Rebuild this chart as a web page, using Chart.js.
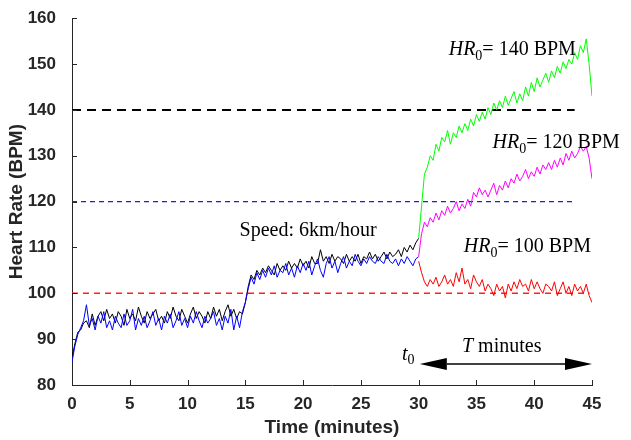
<!DOCTYPE html>
<html>
<head>
<meta charset="utf-8">
<script src="https://cdn.jsdelivr.net/npm/chart.js@4/dist/chart.umd.min.js"></script>
<style>
  html, body { margin: 0; padding: 0; background: #fff; }
</style>
</head>
<body>
<canvas id="myChart" width="631" height="440"></canvas>
<script>
// sampling: one value every quarter minute
const step = 0.25;
const xTicks = [0, 5, 10, 15, 20, 25, 30, 35, 40, 45];
const yTicks = [80, 90, 100, 110, 120, 130, 140, 150, 160];

// 0 - 30 min (black and blue runs)
const blackHR = [86,
  89, 91.5, 92, 93.5,   94, 92.5, 95.5, 93,   95, 96, 94, 96.5,   94.5, 95.5, 93.5, 96,
  95, 93, 96.5, 94.5,   95.5, 94, 97, 95,   93.5, 96, 94.5, 95.5,   96.5, 94, 95, 93.5,
  96, 94.5, 97, 95,   94, 96.5, 95, 93.5,   95.5, 97, 94.5, 96,   95, 93.5, 96, 94.5,
  97, 95, 96.5, 94,   96, 97.5, 95, 96.5,   94.5, 96, 95.5, 98,   101.5, 104, 103, 105,
  104, 105.5, 104.5, 106,   105, 104, 106.5, 105,   106, 105, 107, 105.5,   106.5, 105.5, 107.5, 106,
  107, 105.5, 108, 106.5,   106.5, 109.5, 107, 108,   106.5, 108.5, 107, 108,   107.5, 106.5, 108.5, 107,
  108, 107, 108.5, 106.5,   108, 107.5, 109, 107.5,   108.5, 107, 108, 109,   107.5, 109, 108, 108.5,
  109.5, 108, 110, 109,   110.5, 109.5, 111, 112];
const blueHR = [85,
  88.5, 91, 92.5, 94,   97.5, 93, 94.5, 92,   95, 93.5, 96, 92.5,   94, 92, 95, 93.5,
  92.5, 95.5, 93, 94,   96.5, 92, 94.5, 93,   95, 92.5, 94, 96,   93, 94.5, 92, 95,
  93.5, 95.5, 92.5, 94,   96, 93, 94.5, 92.5,   95, 93.5, 96, 94,   92.5, 95, 93.5, 94.5,
  96, 93, 94.5, 92,   95, 93.5, 96.5, 92,   95, 92.5, 96, 98,   101, 103.5, 102, 104.5,
  103, 105, 103.5, 105.5,   104, 106, 103.5, 105,   104.5, 106.5, 104, 105.5,   103.5, 106, 104.5, 106.5,
  105, 107, 104, 106,   107.5, 105, 103.5, 106.5,   108, 105.5, 107, 104.5,   106.5, 108, 105.5, 107,
  106, 108.5, 107, 106,   107.5, 106.5, 108, 107,   106.5, 108, 107, 106.5,   108.5, 107, 106.5, 107.5,
  106, 107.5, 106.5, 108,   107, 106, 107.5, 108];

// 30 - 45 min, one run per starting level
const greenHR = [112,
  119, 126, 127.5, 130,   129, 132.5, 131, 134,   133, 135.5, 132.5, 135,   134, 136.5, 135, 137,
  135.5, 138, 136.5, 139,   137.5, 139.5, 138, 140.5,   139, 141.5, 140, 142,   140.5, 143, 141, 142.5,
  144, 141.5, 143.5, 142,   145, 143, 146, 144,   147, 145, 146.5, 148,   146, 148.5, 147, 149.5,
  148, 150.5, 149, 151,   150, 152.5, 151, 154,   152.5, 155.5, 150, 143];
const magentaHR = [108,
  113, 115.5, 114.5, 116.5,   115.5, 117.5, 116, 118,   117, 119, 117.5, 118.5,   120, 118, 119.5, 118.5,
  120.5, 119, 122, 121,   123, 121.5, 122.5, 121,   122.5, 124, 121.5, 123.5,   122.5, 124.5, 123, 125,
  124, 126, 124.5, 125.5,   127, 125, 126.5, 125.5,   127.5, 126, 128, 127,   128.5, 127, 129, 127.5,
  129.5, 128, 130.5, 129,   131, 129.5, 130.5, 132,   131, 132, 129.5, 125];
const redHR = [107,
  104.5, 102.5, 101.5, 103,   102, 103.5, 101.5, 102.5,   104, 102, 103, 101.5,   104.5, 102.5, 105.5, 102,
  103, 101, 104, 102.5,   101.5, 103, 100.5, 102,   101, 99.5, 102, 100.5,   101.5, 99, 102, 100.5,
  102.5, 101, 103, 101.5,   102, 100.5, 103, 101,   102.5, 101, 100, 102,   101.5, 100.5, 102.5, 99.5,
  101, 102.5, 100, 101.5,   99.5, 102, 100.5, 101.5,   100, 102, 99.5, 98];

// target levels HR0 and where each dashed line ends
const levels = [140, 120, 100];
const levelEnds = [43.5, 43.5, 44.8];

const toPoints = (arr, start) => arr.map((v, i) => ({ x: start + i * step, y: v }));

const axisColor = "#262626";
const tickFont = { family: "Liberation Sans, Arial, sans-serif", size: 17, weight: "bold" };
const titleFont = { family: "Liberation Sans, Arial, sans-serif", size: 19, weight: "bold" };
const serif = "Liberation Serif, 'Times New Roman', serif";

// draw text made of several pieces (italic, subscripts ...)
function drawRuns(ctx, x, y, runs) {
  let cx = x;
  runs.forEach((r) => {
    ctx.font = r.font;
    ctx.fillText(r.text, cx, y + (r.dy || 0));
    cx += ctx.measureText(r.text).width;
  });
}

const hr0Runs = (value) => [
  { text: "HR", font: "italic 20px " + serif },
  { text: "0", font: "14px " + serif, dy: 5 },
  { text: "= " + value + " BPM", font: "20px " + serif },
];

const extras = {
  id: "extras",
  afterDraw(chart) {
    const { ctx, scales: { x, y }, chartArea } = chart;
    ctx.save();
    // inward tick marks
    ctx.strokeStyle = axisColor;
    ctx.lineWidth = 1;
    ctx.beginPath();
    xTicks.forEach((t) => {
      const px = Math.round(x.getPixelForValue(t)) + 0.5;
      ctx.moveTo(px, chartArea.bottom);
      ctx.lineTo(px, chartArea.bottom - 5);
    });
    yTicks.forEach((t) => {
      const py = Math.round(y.getPixelForValue(t)) + 0.5;
      ctx.moveTo(chartArea.left, py);
      ctx.lineTo(chartArea.left + 5, py);
    });
    ctx.stroke();

    // annotations
    ctx.fillStyle = "#000";
    ctx.textBaseline = "alphabetic";
    ctx.textAlign = "left";
    drawRuns(ctx, x.getPixelForValue(32.6), y.getPixelForValue(152), hr0Runs(140));
    drawRuns(ctx, x.getPixelForValue(36.4), y.getPixelForValue(131.7), hr0Runs(120));
    drawRuns(ctx, x.getPixelForValue(33.9), y.getPixelForValue(109.1), hr0Runs(100));
    drawRuns(ctx, x.getPixelForValue(14.5), y.getPixelForValue(112.4), [
      { text: "Speed: 6km/hour", font: "20px " + serif },
    ]);
    drawRuns(ctx, x.getPixelForValue(28.56), y.getPixelForValue(85.4), [
      { text: "t", font: "italic 20px " + serif },
      { text: "0", font: "14px " + serif, dy: 4 },
    ]);
    drawRuns(ctx, x.getPixelForValue(33.75), y.getPixelForValue(87.2), [
      { text: "T", font: "italic 20px " + serif },
      { text: " minutes", font: "20px " + serif },
    ]);

    // double arrow for T
    const ax0 = x.getPixelForValue(30.1);
    const ax1 = x.getPixelForValue(45);
    const ay = y.getPixelForValue(84.6);
    const head = 27, half = 6;
    ctx.strokeStyle = "#000";
    ctx.lineWidth = 1.5;
    ctx.beginPath();
    ctx.moveTo(ax0 + head, ay);
    ctx.lineTo(ax1 - head, ay);
    ctx.stroke();
    ctx.beginPath();
    ctx.moveTo(ax0, ay);
    ctx.lineTo(ax0 + head, ay - half);
    ctx.lineTo(ax0 + head, ay + half);
    ctx.closePath();
    ctx.moveTo(ax1, ay);
    ctx.lineTo(ax1 - head, ay - half);
    ctx.lineTo(ax1 - head, ay + half);
    ctx.closePath();
    ctx.fill();
    ctx.restore();
  },
};

const traceStyle = (color, order) => ({
  borderColor: color,
  borderWidth: 1,
  pointRadius: 0,
  tension: 0,
  order: order,
});

const levelColors = ["#000000", "#1f1fe0", "#ff2020"];
const levelWidths = [2, 1.4, 1.5];
const levelDash = [[9, 6], [5, 4], [6, 5]];

const levelSets = levels.map((lv, i) => ({
  data: [{ x: 0, y: lv }, { x: levelEnds[i], y: lv }],
  borderColor: levelColors[i],
  borderWidth: levelWidths[i],
  borderDash: levelDash[i],
  pointRadius: 0,
  order: 10,
}));

new Chart(document.getElementById("myChart"), {
  type: "line",
  data: {
    datasets: [
      ...levelSets,
      { data: toPoints(blackHR, 0), ...traceStyle("#000000", 6) },
      { data: toPoints(blueHR, 0), ...traceStyle("#0000ff", 5) },
      { data: toPoints(greenHR, 30), ...traceStyle("#00ff00", 4) },
      { data: toPoints(magentaHR, 30), ...traceStyle("#ff00ff", 3) },
      { data: toPoints(redHR, 30), ...traceStyle("#ff0000", 2) },
    ],
  },
  options: {
    responsive: false,
    animation: false,
    layout: { padding: { top: 17, right: 39, left: 0, bottom: 0 } },
    plugins: { legend: { display: false }, tooltip: { enabled: false } },
    scales: {
      x: {
        type: "linear",
        min: 0,
        max: 45,
        afterBuildTicks: (s) => { s.ticks = xTicks.map((v) => ({ value: v })); },
        afterFit: (s) => { s.height = 55; },
        ticks: { font: tickFont, color: axisColor, padding: 1, maxRotation: 0 },
        grid: { display: false },
        border: { color: axisColor, width: 1 },
        title: { display: true, text: "Time (minutes)", font: titleFont, color: axisColor, padding: { top: 0, bottom: 1 } },
      },
      y: {
        min: 80,
        max: 160,
        afterBuildTicks: (s) => { s.ticks = yTicks.map((v) => ({ value: v })); },
        afterFit: (s) => { s.width = 72; },
        ticks: { font: tickFont, color: axisColor, padding: 8 },
        grid: { display: false },
        border: { color: axisColor, width: 1 },
        title: { display: true, text: "Heart Rate (BPM)", font: titleFont, color: axisColor, padding: { top: 5, bottom: 0 } },
      },
    },
  },
  plugins: [extras],
});
</script>
</body>
</html>
